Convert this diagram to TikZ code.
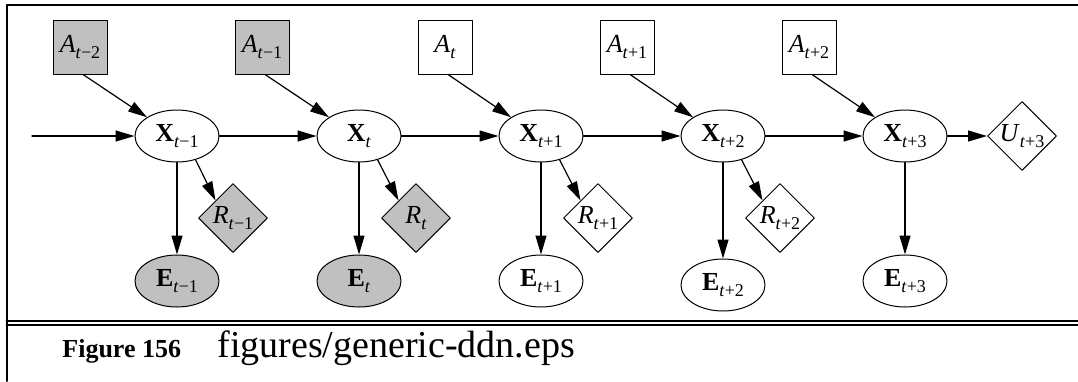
\documentclass[tikz,border=0pt]{standalone}
\usepackage{fontspec}
\setmainfont{Liberation Serif}
\usetikzlibrary{arrows.meta,shapes.geometric}
\definecolor{shade}{RGB}{192,192,192}
\newcommand{\sbx}[2]{#1\raisebox{-0.5ex}{\fontsize{9}{9}\selectfont #2}}
\begin{document}
\begin{tikzpicture}[x=0.5pt,y=-0.5pt,line cap=round,line join=round,
  font=\fontsize{13}{14}\selectfont,
  act/.style={draw,line width=0.5pt,minimum size=27pt,inner sep=0pt},
  chance/.style={draw,ellipse,line width=0.5pt,minimum width=42pt,minimum height=26pt,inner sep=0pt},
  util/.style={draw,diamond,line width=0.5pt,minimum size=34.5pt,inner sep=0pt},
  seen/.style={fill=shade},
  arr/.style={-{Triangle[length=9.5pt,width=5.5pt]},line width=0.6pt}]
 \useasboundingbox (0,0) rectangle (1078,381);
 % frame
 \draw[line width=1pt] (6.5,381) -- (6.5,5) -- (1078,5);
 \draw[line width=1pt] (6.5,321) -- (1078,321);
 \draw[line width=1pt] (6.5,325) -- (1078,325);
 % actions
 \node[act,seen] (a0) at (80,47) {\sbx{\textit{A}}{\textit{t}−2}};
 \node[act,seen] (a1) at (262,47) {\sbx{\textit{A}}{\textit{t}−1}};
 \node[act] (a2) at (445,47) {\sbx{\textit{A}}{\textit{t}}};
 \node[act] (a3) at (627,47) {\sbx{\textit{A}}{\textit{t}+1}};
 \node[act] (a4) at (809,47) {\sbx{\textit{A}}{\textit{t}+2}};
 % states
 \node[chance] (x1) at (177,136) {\sbx{\textbf{X}}{\textit{t}−1}};
 \node[chance] (x2) at (359,136) {\sbx{\textbf{X}}{\textit{t}}};
 \node[chance] (x3) at (541,136) {\sbx{\textbf{X}}{\textit{t}+1}};
 \node[chance] (x4) at (723,136) {\sbx{\textbf{X}}{\textit{t}+2}};
 \node[chance] (x5) at (905,136) {\sbx{\textbf{X}}{\textit{t}+3}};
 % rewards and utility
 \node[util,seen] (r1) at (233,218) {\sbx{\textit{R}}{\textit{t}−1}};
 \node[util,seen] (r2) at (416,218) {\sbx{\textit{R}}{\textit{t}}};
 \node[util] (r3) at (598,218) {\sbx{\textit{R}}{\textit{t}+1}};
 \node[util] (r4) at (780,218) {\sbx{\textit{R}}{\textit{t}+2}};
 \node[util] (u5) at (1022,136) {\sbx{\textit{U}}{\textit{t}+3}};
 % evidence
 \node[chance,seen] (e1) at (177,281) {\sbx{\textbf{E}}{\textit{t}−1}};
 \node[chance,seen] (e2) at (359,281) {\sbx{\textbf{E}}{\textit{t}}};
 \node[chance] (e3) at (541,281) {\sbx{\textbf{E}}{\textit{t}+1}};
 \node[chance] (e4) at (723,285) {\sbx{\textbf{E}}{\textit{t}+2}};
 \node[chance] (e5) at (905,281) {\sbx{\textbf{E}}{\textit{t}+3}};
 % links
 \coordinate (in) at (32,136);
 \draw[arr] (in) -- (x1);
 \draw[arr] (x1) -- (x2);
 \draw[arr] (x2) -- (x3);
 \draw[arr] (x3) -- (x4);
 \draw[arr] (x4) -- (x5);
 \draw[arr] (x5) -- (u5);
 \draw[arr] ([xshift=1.5pt]a0.south) -- (x1.148);
 \draw[arr] ([xshift=1.5pt]a1.south) -- (x2.148);
 \draw[arr] ([xshift=1.5pt]a2.south) -- (x3.148);
 \draw[arr] ([xshift=1.5pt]a3.south) -- (x4.148);
 \draw[arr] ([xshift=1.5pt]a4.south) -- (x5.148);
 \draw[arr] (x1.south) -- (e1.north);
 \draw[arr] (x2.south) -- (e2.north);
 \draw[arr] (x3.south) -- (e3.north);
 \draw[arr] (x4.south) -- (e4.north);
 \draw[arr] (x5.south) -- (e5.north);
 \draw[arr] (x1.-52) -- (r1.north west);
 \draw[arr] (x2.-52) -- (r2.north west);
 \draw[arr] (x3.-52) -- (r3.north west);
 \draw[arr] (x4.-52) -- (r4.north west);
 % caption
 \node[anchor=base west,inner sep=0pt,font=\fontsize{13}{14}\selectfont\bfseries] (fig) at (62,357) {Figure 156};
 \node[anchor=base west,inner sep=0pt,font=\fontsize{19}{20}\selectfont] (file) at (217,357) {figures/generic-ddn.eps};
\end{tikzpicture}
\end{document}
